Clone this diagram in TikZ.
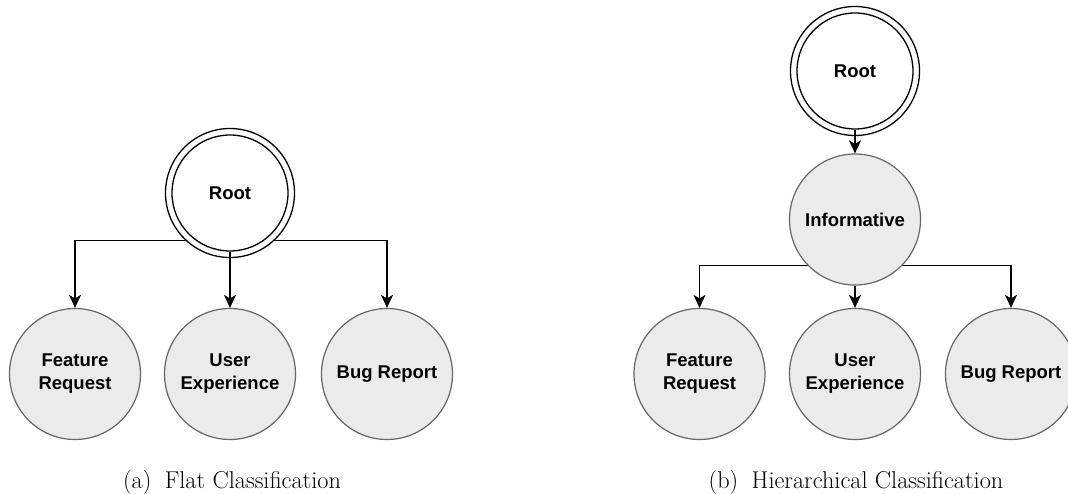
\documentclass[tikz,border=0pt]{standalone}
\usepackage{fontspec}
\newfontfamily\labelfamily{Liberation Sans}
\usetikzlibrary{arrows.meta}

\definecolor{leafgray}{HTML}{EBEBEB}
\definecolor{leafedge}{HTML}{666666}

\tikzset{
  leaf/.style={circle, draw=leafedge, fill=leafgray, line width=1.2pt,
    minimum size=131pt, inner sep=0pt, align=center,
    font=\labelfamily\bfseries\fontsize{18.5}{23}\selectfont},
  rootring/.style={circle, draw=black, fill=white, line width=1.3pt,
    minimum size=129pt, inner sep=0pt},
  rootcore/.style={circle, draw=black, line width=1.3pt,
    minimum size=116pt, inner sep=0pt, align=center,
    font=\labelfamily\bfseries\fontsize{18.5}{23}\selectfont},
  link/.style={draw=black, line width=1.5pt,
    -{Stealth[length=13pt, width=12pt, inset=3.5pt]}},
  captiontext/.style={font=\fontsize{24.3}{29}\selectfont, anchor=base}
}

\begin{document}
\begin{tikzpicture}[x=1pt, y=-1pt]
\useasboundingbox (0,0) rectangle (1068,494);
\begin{scope}
\clip (0,0) rectangle (1068,494);

% ---------- (a) flat classification ----------
\node[leaf] (fa) at (75,374) {Feature\\Request};
\node[leaf] (ua) at (230,374) {User\\Experience};
\node[leaf] (ba) at (387,374) {Bug Report};
\coordinate (busa) at (230,240.7);
\coordinate (rootctra) at (230,193);

\draw[link] (rootctra) -- (busa) -| (fa.north);
\draw[link] (rootctra) -- (busa) -| (ba.north);

\node[rootring] (roota) at (230,193) {};
\node[rootcore] (rootain) at (230,193) {Root};
\draw[link] (rootain.south) -- (ua.north);

% ---------- (b) hierarchical classification ----------
\node[leaf] (fb) at (699.5,374) {Feature\\Request};
\node[leaf] (ub) at (855,374) {User\\Experience};
\node[leaf] (bb) at (1011,374) {Bug Report};
\coordinate (busb) at (855,265.5);
\coordinate (infctr) at (855,219.5);

\draw[link] (infctr) -- (busb) -| (fb.north);
\draw[link] (infctr) -- (busb) -| (bb.north);

\node[leaf] (inf) at (855,219.5) {Informative};
\draw[link] (inf.south) -- (ub.north);

\node[rootring] (rootb) at (855,71) {};
\node[rootcore] (rootbin) at (855,71) {Root};
\draw[link] (rootbin.south) -- (inf.north);
\end{scope}

% ---------- captions ----------
\node[captiontext] (capa) at (232,488) {(a)\hspace{0.55em}Flat Classification};
\node[captiontext] (capb) at (856,488) {(b)\hspace{0.55em}Hierarchical Classification};
\end{tikzpicture}
\end{document}
